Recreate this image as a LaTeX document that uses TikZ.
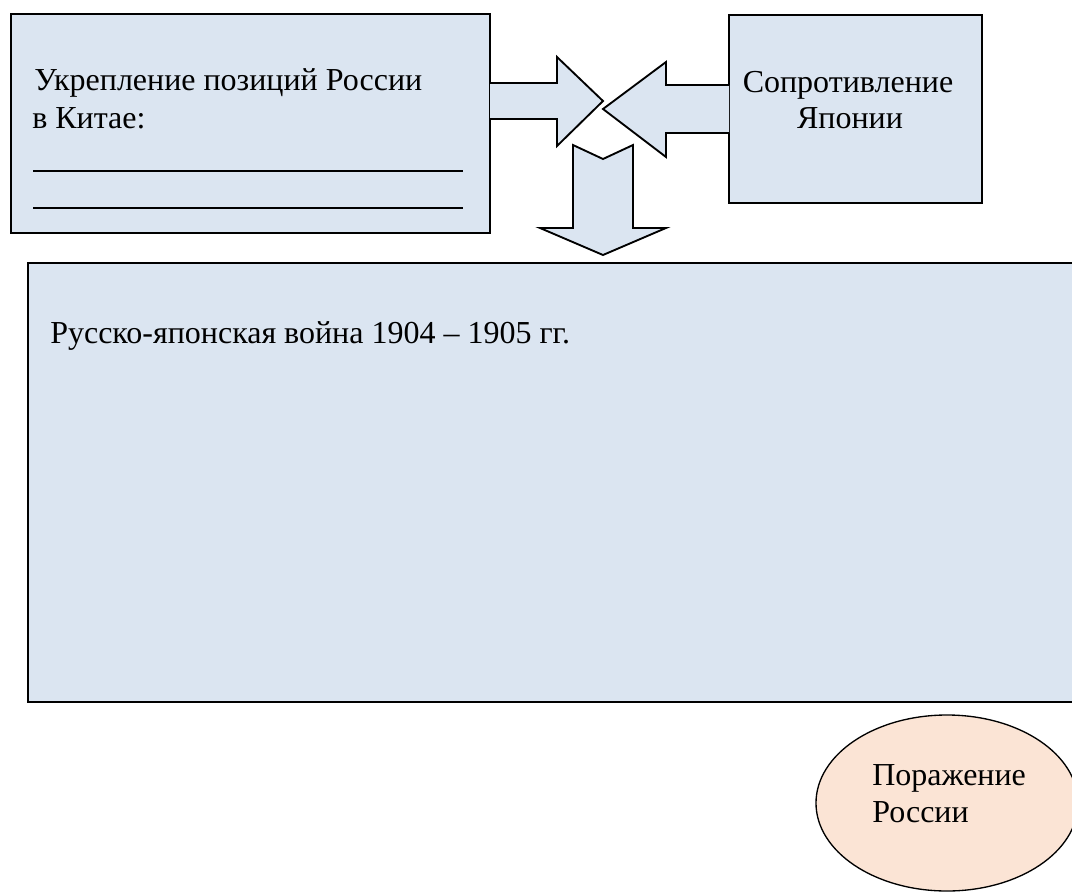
\documentclass[tikz,border=0pt]{standalone}
\usepackage{fontspec}
\setmainfont{Liberation Serif}
\usetikzlibrary{positioning}
\definecolor{boxblue}{HTML}{DBE5F1}
\definecolor{peach}{HTML}{FBE4D5}

\begin{document}
\begin{tikzpicture}[x=0.75pt,y=-0.75pt,
  box/.style={draw=black,line width=1.5pt,fill=boxblue},
  blockarrow/.style={draw=black,line width=1.4pt,fill=boxblue,line join=miter},
  txt/.style={font=\fontsize{24}{28.5}\selectfont,inner sep=0pt,anchor=base west}]
  \useasboundingbox (0,0) rectangle (1072,893);

  % boxes
  \draw[box] (11,14) rectangle (490,233);
  \draw[box] (729,15) rectangle (982,203);
  \draw[box] (28,263) rectangle (1085,702);
  \draw[draw=black,line width=1pt,fill=peach] (947,803) ellipse [x radius=98.25pt,y radius=66pt];

  % block arrows
  \draw[blockarrow] (490,83) -- (557,83) -- (557,57) -- (603,101) -- (557,146) -- (557,119) -- (490,119);
  \draw[blockarrow] (729,85) -- (666,85) -- (666,62) -- (603,109) -- (666,157) -- (666,133) -- (729,133);
  \draw[blockarrow] (573,145) -- (603,159) -- (633,145) -- (633,228) -- (666,228) -- (603,255) -- (540,228) -- (573,228) -- cycle;

  \node[txt] (ukr1) at (34,90) {Укрепление позиций России};
  \node[txt] (ukr2) at (32,128) {в Китае:};
  \draw[line width=0.8pt] (33,171) -- (463,171);
  \draw[line width=0.8pt] (33,208) -- (463,208);

  \node[txt,anchor=base] (sopr1) at (848,92) {Сопротивление};
  \node[txt,anchor=base] (sopr2) at (850,128) {Японии};

  \node[txt] (war) at (50,343) {Русско-японская война 1904 – 1905 гг.};

  \node[txt] (por1) at (872,785) {Поражение};
  \node[txt] (por2) at (872,822) {России};
\end{tikzpicture}
\end{document}
